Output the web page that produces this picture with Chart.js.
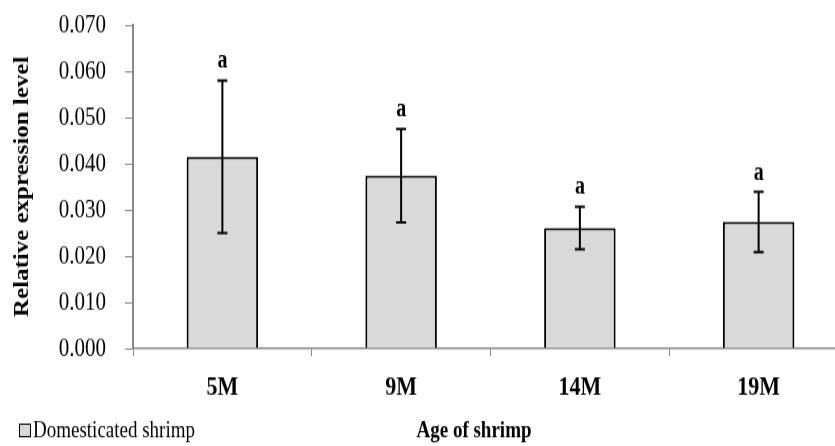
<!DOCTYPE html>
<html>
<head>
<meta charset="utf-8">
<script src="https://cdn.jsdelivr.net/npm/chart.js@4/dist/chart.umd.min.js"></script>
<style>
  html, body { margin: 0; padding: 0; background: #fff; overflow: hidden; }
</style>
</head>
<body>
<!-- the reference picture is stretched vertically: draw at 357px high, show at 446px -->
<canvas id="chart" width="850" height="357" style="display:block; width:850px; height:446px;"></canvas>
<script>
// values
const ages = ['5M', '9M', '14M', '19M'];
const expression = [0.0415, 0.0374, 0.0261, 0.0274];
const errors = [0.0165, 0.0101, 0.0046, 0.0065];
const letters = ['a', 'a', 'a', 'a'];
const yTicks = [0, 0.01, 0.02, 0.03, 0.04, 0.05, 0.06, 0.07];

const serif = "'Liberation Serif', 'Times New Roman', serif";

// error bars + significance letters
const errorBarPlugin = {
  id: 'errorBars',
  afterDatasetsDraw(chart) {
    const ctx = chart.ctx;
    const y = chart.scales.y;
    const meta = chart.getDatasetMeta(0);
    ctx.save();
    ctx.strokeStyle = '#000';
    ctx.lineWidth = 2;
    meta.data.forEach((bar, i) => {
      const top = y.getPixelForValue(expression[i] + errors[i]);
      const bot = y.getPixelForValue(expression[i] - errors[i]);
      ctx.beginPath();
      ctx.moveTo(bar.x, top); ctx.lineTo(bar.x, bot);
      ctx.moveTo(bar.x - 5, top); ctx.lineTo(bar.x + 5, top);
      ctx.moveTo(bar.x - 5, bot); ctx.lineTo(bar.x + 5, bot);
      ctx.stroke();
      ctx.fillStyle = '#000';
      ctx.font = 'bold 20px ' + serif;
      ctx.textAlign = 'center';
      ctx.textBaseline = 'alphabetic';
      ctx.fillText(letters[i], bar.x, top - 10);
    });
    ctx.restore();
  }
};

// legend and x title share the bottom line
const bottomTextPlugin = {
  id: 'bottomText',
  afterDraw(chart) {
    const ctx = chart.ctx;
    ctx.save();
    ctx.fillStyle = '#d9d9d9';
    ctx.fillRect(19, 340, 11, 9);
    ctx.strokeStyle = '#000';
    ctx.lineWidth = 1;
    ctx.strokeRect(19.5, 339.5, 11, 10);
    ctx.fillStyle = '#000';
    ctx.textBaseline = 'middle';
    ctx.textAlign = 'left';
    ctx.font = '19px ' + serif;
    ctx.fillText('Domesticated shrimp', 33, 345);
    ctx.textAlign = 'center';
    ctx.font = 'bold 19px ' + serif;
    ctx.fillText('Age of shrimp', 474, 345);
    ctx.restore();
  }
};

new Chart(document.getElementById('chart'), {
  type: 'bar',
  data: {
    labels: ages,
    datasets: [{
      label: 'Domesticated shrimp',
      data: expression,
      backgroundColor: '#d9d9d9',
      borderColor: '#000',
      borderWidth: 2,
      borderSkipped: 'bottom',
      barPercentage: 0.4,
      categoryPercentage: 1.0
    }]
  },
  options: {
    responsive: false,
    animation: false,
    layout: { padding: { top: 20, right: 2, left: 0, bottom: 0 } },
    plugins: {
      legend: { display: false },
      tooltip: { enabled: false }
    },
    scales: {
      x: {
        offset: true,
        grid: {
          offset: true,
          drawOnChartArea: false,
          drawTicks: true,
          tickLength: 6,
          color: '#898989'
        },
        border: { color: '#898989', width: 1.6 },
        ticks: {
          color: '#000',
          padding: 12,
          font: { family: serif, size: 22, weight: 'bold' }
        },
        afterFit(scale) { scale.height = 78; }
      },
      y: {
        min: 0,
        max: 0.07,
        afterBuildTicks(scale) { scale.ticks = yTicks.map(v => ({ value: v })); },
        grid: {
          drawOnChartArea: false,
          drawTicks: true,
          tickLength: 8,
          color: '#898989'
        },
        border: { color: '#898989', width: 2 },
        ticks: {
          color: '#000',
          padding: 19,
          font: { family: serif, size: 21 },
          callback: v => v.toFixed(3)
        },
        title: {
          display: true,
          text: 'Relative expression level',
          color: '#000',
          padding: { top: 11, bottom: 0 },
          font: { family: serif, size: 20, weight: 'bold' }
        },
        afterFit(scale) {
          scale.width = 133;
          scale.paddingTop = 0;
          scale.paddingBottom = 0;
        }
      }
    }
  },
  plugins: [errorBarPlugin, bottomTextPlugin]
});
</script>
</body>
</html>
